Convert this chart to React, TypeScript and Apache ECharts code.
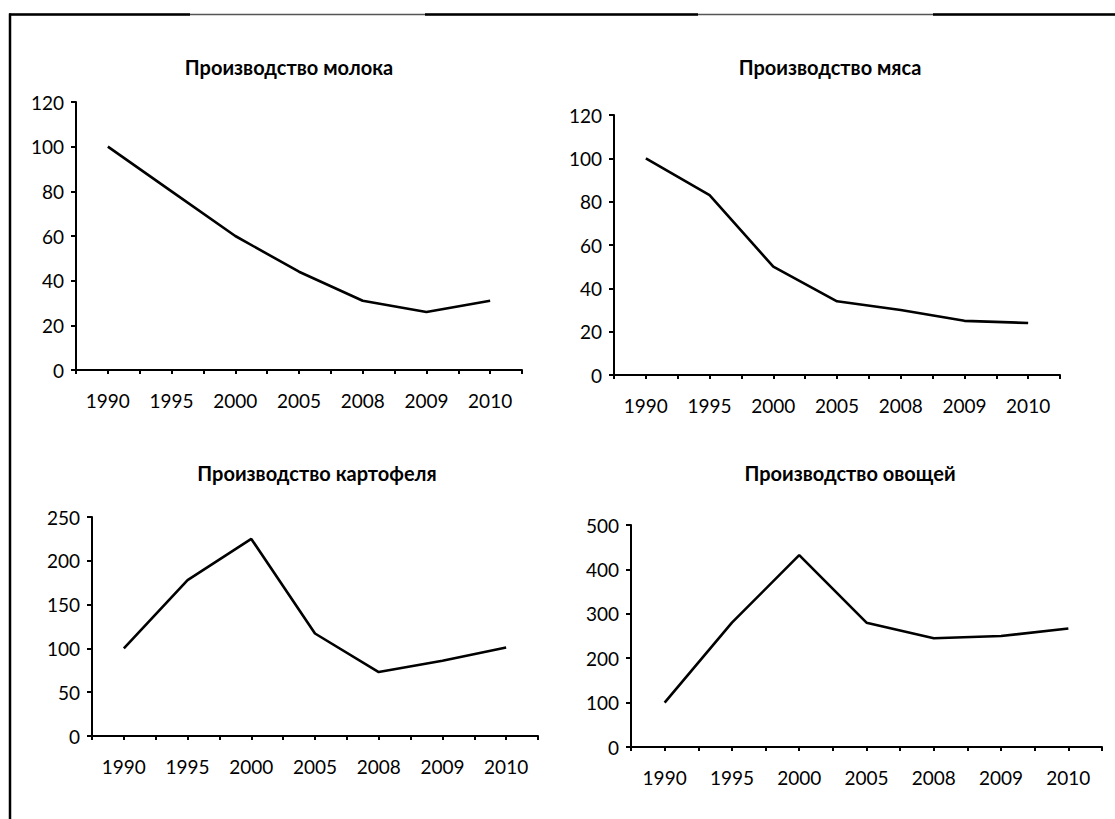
import React, { useEffect, useRef } from "react";
import * as echarts from "echarts";

const years = ["1990", "1995", "2000", "2005", "2008", "2009", "2010"];
const milk = [100, 80, 60, 44, 31, 26, 31];
const meat = [100, 83, 50, 34, 30, 25, 24];
const potato = [100, 178, 225, 117, 73, 86, 101];
const vegetables = [100, 280, 432, 280, 245, 250, 267];

const titles = [
  "Производство молока",
  "Производство мяса",
  "Производство картофеля",
  "Производство овощей",
];
const yMax = [120, 120, 250, 500];
const yStep = [20, 20, 50, 100];
const seriesData = [milk, meat, potato, vegetables];

const FONT = "Lato, 'Open Sans', sans-serif";

const panels = [
  { grid: { left: 76, top: 102, width: 446, height: 268 }, tx: 289, ty: 67 },
  { grid: { left: 614, top: 115, width: 446, height: 260 }, tx: 830, ty: 67 },
  { grid: { left: 92, top: 517, width: 446, height: 219 }, tx: 317, ty: 473 },
  { grid: { left: 631, top: 525, width: 471, height: 222 }, tx: 850, ty: 473 },
];

export default function App() {
  const ref = useRef<HTMLDivElement>(null);
  useEffect(() => {
    if (!ref.current) return;
    const chart = echarts.init(ref.current, undefined, { renderer: "svg" });
    const axisStyle = () => ({ color: "#000", width: 2, opacity: 1 });
    const grids = panels.map((p) => ({ ...p.grid, outerBoundsMode: "none" }));
    const xAxes: any[] = [];
    const yAxes: any[] = [];
    const series: any[] = [];
    panels.forEach((p, i) => {
      xAxes.push({
        type: "category",
        gridIndex: i,
        data: years,
        position: "bottom",
        boundaryGap: true,
        axisLine: { show: true, onZero: false, lineStyle: axisStyle() },
        axisTick: { show: true, interval: 0, length: 4, lineStyle: axisStyle() },
        axisLabel: { color: "#000", fontSize: 19, fontFamily: FONT, margin: 21, interval: 0 },
        splitLine: { show: false },
      });
      xAxes.push({
        type: "category",
        gridIndex: i,
        data: years,
        position: "bottom",
        boundaryGap: true,
        axisLine: { show: false, onZero: false },
        axisTick: { show: true, alignWithLabel: true, interval: 0, length: 4, lineStyle: axisStyle() },
        axisLabel: { show: false },
        splitLine: { show: false },
      });
      yAxes.push({
        type: "value",
        gridIndex: i,
        min: 0,
        max: yMax[i],
        interval: yStep[i],
        axisLine: { show: true, lineStyle: axisStyle() },
        axisTick: { show: true, length: 5, lineStyle: axisStyle() },
        axisLabel: { color: "#000", fontSize: 19, fontFamily: FONT, margin: 12 },
        splitLine: { show: false },
      });
      series.push({
        type: "line",
        xAxisIndex: 2 * i,
        yAxisIndex: i,
        data: seriesData[i],
        showSymbol: false,
        symbol: "none",
        lineStyle: { color: "#000", width: 2.6 },
        z: 5,
      });
    });

    const graphic: any[] = [
      { type: "line", shape: { x1: 10, y1: 14.5, x2: 1115, y2: 14.5 }, style: { stroke: "#555", lineWidth: 1.5 } },
      { type: "line", shape: { x1: 9, y1: 14.5, x2: 190, y2: 14.5 }, style: { stroke: "#000", lineWidth: 2.5 } },
      { type: "line", shape: { x1: 425, y1: 14.5, x2: 698, y2: 14.5 }, style: { stroke: "#000", lineWidth: 2.5 } },
      { type: "line", shape: { x1: 933, y1: 14.5, x2: 1115, y2: 14.5 }, style: { stroke: "#000", lineWidth: 2.5 } },
      { type: "line", shape: { x1: 10, y1: 13.5, x2: 10, y2: 819 }, style: { stroke: "#000", lineWidth: 2.5 } },
    ];
    panels.forEach((p, i) => {
      graphic.push({
        type: "text",
        x: p.tx,
        y: p.ty,
        style: {
          text: titles[i],
          align: "center",
          verticalAlign: "middle",
          textAlign: "center",
          textVerticalAlign: "middle",
          fontSize: 20,
          fontWeight: "bold",
          fontFamily: FONT,
          fill: "#000",
        },
      });
    });

    chart.setOption({
      animation: false,
      backgroundColor: "#fff",
      grid: grids,
      xAxis: xAxes,
      yAxis: yAxes,
      series,
      graphic,
    });
    return () => chart.dispose();
  }, []);
  return (
    <div
      ref={ref}
      style={{ position: "absolute", left: 0, top: 0, width: 1115, height: 819 }}
    />
  );
}
